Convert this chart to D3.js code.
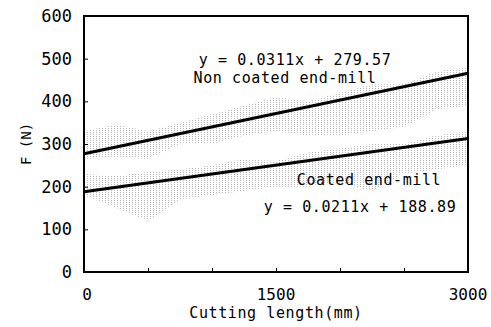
<!DOCTYPE html>
<html>
<head>
<meta charset="utf-8">
<script src="https://cdn.jsdelivr.net/npm/d3@7"></script>
<style>
  body { margin: 0; background: #fff; }
  text { font-family: "DejaVu Sans Mono", "Liberation Mono", monospace; fill: #000; }
</style>
</head>
<body>
<div id="chart"></div>
<script>
// cutting length samples (mm) for the raw force envelope
const lengths = [0, 250, 500, 750, 1000, 1250, 1500, 1750, 2000, 2250, 2500, 2750, 3000];
// raw signal envelope, F (N)
const nonCoatedLow  = [265, 270, 265, 300, 300, 320, 330, 320, 320, 330, 340, 380, 390];
const nonCoatedHigh = [330, 345, 330, 350, 370, 390, 410, 400, 420, 440, 440, 470, 480];
const coatedLow     = [180, 150, 120, 170, 180, 190, 200, 200, 210, 190, 230, 240, 250];
const coatedHigh    = [230, 225, 235, 240, 250, 265, 260, 280, 290, 300, 300, 320, 330];

// fitted trend lines, endpoints at 0 and 3000 mm
const fitX = [0, 3000];
const nonCoatedFit = [277, 466];
const coatedFit = [188, 313];

const xTicks = [0, 500, 1000, 1500, 2000, 2500, 3000];
const xTickLabels = [0, 1500, 3000];
const yTicks = [0, 100, 200, 300, 400, 500, 600];

const W = 491, H = 327;
const margin = {top: 16, right: 23, bottom: 55, left: 84};
const width = W - margin.left - margin.right,
    height = H - margin.top - margin.bottom;

const svg = d3.select('#chart').append('svg')
    .attr('width', W)
    .attr('height', H);

// dotted fill for the noisy raw signal
const pat = svg.append('defs').append('pattern')
    .attr('id', 'noise')
    .attr('patternUnits', 'userSpaceOnUse')
    .attr('width', 3)
    .attr('height', 2);
pat.append('rect')
    .attr('width', 1)
    .attr('height', 1)
    .attr('fill', '#b8b8b8');

const x = d3.scaleLinear().domain([0, 3000]).range([0, width]);
const y = d3.scaleLinear().domain([0, 600]).range([height, 0]);

const g = svg.append('g')
    .attr('transform', 'translate(' + margin.left + ',' + margin.top + ')');

// grey raw signal bands
const band = (lo, hi) => d3.area()
    .x((d, i) => x(lengths[i]))
    .y0((d, i) => y(lo[i]))
    .y1((d, i) => y(hi[i]))
    .curve(d3.curveLinear);

[[nonCoatedLow, nonCoatedHigh], [coatedLow, coatedHigh]].forEach(([lo, hi]) => {
    g.append('path')
        .datum(lengths)
        .attr('d', band(lo, hi))
        .attr('fill', 'url(#noise)');
});

// trend lines
const line = vals => d3.line()
    .x((d, i) => x(fitX[i]))
    .y((d, i) => y(vals[i]));

[nonCoatedFit, coatedFit].forEach(vals => {
    g.append('path')
        .datum(fitX)
        .attr('d', line(vals))
        .attr('fill', 'none')
        .attr('stroke', '#000')
        .attr('stroke-width', 3);
});

// frame
g.append('rect')
    .attr('width', width)
    .attr('height', height)
    .attr('fill', 'none')
    .attr('stroke', '#000')
    .attr('stroke-width', 2);

// inner ticks
g.append('g')
    .attr('transform', `translate(0, ${height})`)
    .call(d3.axisBottom(x).tickValues(xTicks).tickSizeInner(-4).tickSizeOuter(0).tickFormat(''))
    .call(a => a.select('.domain').remove());

g.append('g')
    .call(d3.axisLeft(y).tickValues(yTicks).tickSizeInner(-4).tickSizeOuter(0).tickFormat(''))
    .call(a => a.select('.domain').remove());

// tick labels
g.selectAll('.ylab')
    .data(yTicks)
    .enter().append('text')
    .attr('class', 'ylab')
    .attr('x', -12)
    .attr('y', d => y(d) + 6)
    .attr('text-anchor', 'end')
    .style('font-size', '17px')
    .text(d => d);

g.selectAll('.xlab')
    .data(xTickLabels)
    .enter().append('text')
    .attr('class', 'xlab')
    .attr('x', d => x(d) + (d === 0 ? 3 : 0))
    .attr('y', height + 28)
    .attr('text-anchor', 'middle')
    .style('font-size', '16px')
    .text(d => d);

// axis titles
g.append('text')
    .attr('x', x(1500))
    .attr('y', height + 46)
    .attr('text-anchor', 'middle')
    .style('font-size', '15px')
    .style('letter-spacing', '0.6px')
    .text('Cutting length(mm)');

svg.append('text')
    .attr('transform', 'translate(31,' + (margin.top + y(300)) + ') rotate(-90)')
    .attr('text-anchor', 'middle')
    .style('font-size', '14px')
    .text('F (N)');

// annotations
const note = (t, cx, by) => g.append('text')
    .attr('x', cx - margin.left)
    .attr('y', by - margin.top)
    .attr('text-anchor', 'middle')
    .style('font-size', '15px')
    .style('letter-spacing', '0.6px')
    .text(t);

note('y = 0.0311x + 279.57', 295, 65);
note('Non coated end-mill', 285, 83);
note('Coated end-mill', 369, 185);
note('y = 0.0211x + 188.89', 360, 212);
</script>
</body>
</html>
